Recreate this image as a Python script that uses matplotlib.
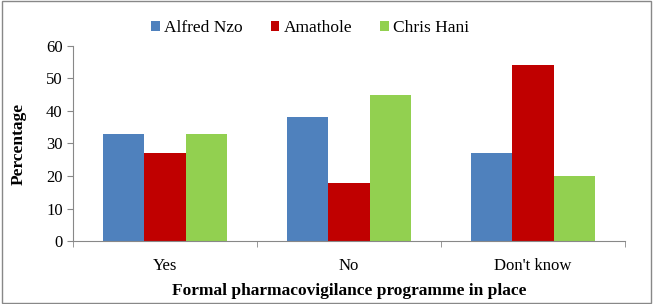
import matplotlib

matplotlib.use("Agg")
import matplotlib.pyplot as plt
import numpy as np
from matplotlib.patches import Rectangle

categories = ["Yes", "No", "Don't know"]
series_names = ["Alfred Nzo", "Amathole", "Chris Hani"]
alfred_nzo = [33, 38, 27]
amathole = [27, 18, 54]
chris_hani = [33, 45, 20]

COLORS = ["#4F81BD", "#C00000", "#92D050"]

plt.rcParams["font.family"] = ["Liberation Serif", "DejaVu Serif"]

fig = plt.figure(figsize=(6.53, 3.04), dpi=100)
ax = fig.add_axes([0.112, 0.207, 0.845, 0.642])

x = np.arange(len(categories))
width = 0.225
for i, (name, vals) in enumerate(zip(series_names, [alfred_nzo, amathole, chris_hani])):
    ax.bar(x + (i - 1) * width, vals, width, color=COLORS[i], label=name)

ax.set_xlim(-0.5, len(categories) - 0.5)
ax.set_ylim(0, 60)
ax.set_yticks(range(0, 61, 10))
ax.set_xticks(x)
ax.set_xticklabels(categories, fontsize=12)
ax.set_xticks(np.arange(-0.5, len(categories), 1), minor=True)
ax.tick_params(axis="x", which="major", length=0, pad=12)
ax.tick_params(axis="x", which="minor", length=4, color="#888888")
ax.tick_params(axis="y", length=4, color="#888888", labelsize=12)

for side in ("top", "right"):
    ax.spines[side].set_visible(False)
for side in ("left", "bottom"):
    ax.spines[side].set_color("#888888")

ax.set_xlabel("Formal pharmacovigilance programme in place", fontsize=12.5,
              fontweight="bold", labelpad=7)
ax.set_ylabel("Percentage", fontsize=12.5, fontweight="bold", labelpad=14)

fig.legend(loc="upper center", bbox_to_anchor=(0.475, 0.985), ncol=3, frameon=False,
           fontsize=12.5, handlelength=0.5, handleheight=0.5, handletextpad=0.25,
           columnspacing=1.6)

fig.patches.append(Rectangle((0.003, 0.003), 0.994, 0.994, transform=fig.transFigure,
                             fill=False, edgecolor="#888888", linewidth=1))

fig.savefig("out.png", dpi=100)
